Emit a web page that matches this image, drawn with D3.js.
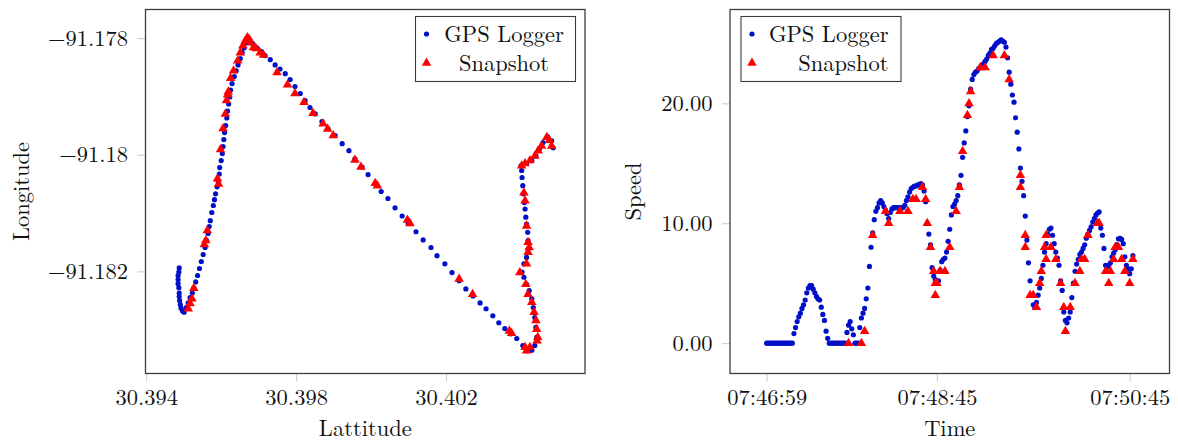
<!DOCTYPE html>
<html>
<head>
<meta charset="utf-8">
<script src="https://cdn.jsdelivr.net/npm/d3@7"></script>
<style>
body{margin:0;background:#fff}
svg text{font-family:"Latin Modern Roman","Liberation Serif",serif;font-size:22.5px;fill:#111}
</style>
</head>
<body>
<svg id="chart" width="1178" height="442"></svg>
<script>
// ---- GPS logger track (left plot) ----
var trackLat = [
  30.39488,30.39487,30.39485,30.39485,30.39485,30.39487,30.39488,30.39488,30.39489,30.39491,30.39493,30.39497,30.39501,
  30.39507,30.39512,30.39517,30.39523,30.39527,30.39532,30.39537,30.39542,30.39547,30.39552,30.39557,30.39561,30.39565,
  30.39568,30.39571,30.39575,30.39579,30.39582,30.39585,30.39589,30.39592,30.39595,30.39596,30.39600,30.39603,30.39605,
  30.39607,30.39609,30.39612,30.39615,30.39617,30.39620,30.39623,30.39625,30.39629,30.39635,30.39640,30.39645,30.39651,
  30.39656,30.39661,30.39667,30.39671,
  30.39677,30.39685,30.39696,30.39707,30.39717,30.39731,30.39744,30.39757,30.39771,30.39784,30.39797,30.39811,30.39824,
  30.39837,30.39851,30.39869,30.39885,30.39904,30.39923,30.39941,30.39957,30.39976,30.39992,30.40011,30.40027,30.40045,
  30.40064,30.40083,30.40099,30.40120,30.40139,30.40160,30.40176,30.40197,30.40216,30.40235,30.40253,30.40272,30.40291,
  30.40307,30.40325,30.40341,30.40357,30.40373,30.40389,30.40405,30.40416,
  30.40429,30.40437,30.40442,30.40440,30.40437,30.40433,30.40429,30.40422,30.40415,30.40408,30.40403,30.40408,30.40415,
  30.40419,30.40419,30.40418,30.40415,30.40413,30.40411,30.40409,30.40406,30.40405,30.40403,30.40402,30.40400,30.40415,
  30.40429,30.40440,30.40449,30.40459,30.40471,30.40482,30.40486]
var trackLon = [
  -91.18194,-91.18201,-91.18207,-91.18214,-91.18221,-91.18228,-91.18237,-91.18243,-91.18250,-91.18257,-91.18263,-91.18268,-91.18270,
  -91.18262,-91.18254,-91.18245,-91.18237,-91.18228,-91.18218,-91.18207,-91.18195,-91.18183,-91.18171,-91.18159,-91.18147,-91.18135,
  -91.18123,-91.18113,-91.18099,-91.18087,-91.18077,-91.18067,-91.18055,-91.18045,-91.18033,-91.18022,-91.18010,-91.17998,-91.17986,
  -91.17974,-91.17962,-91.17950,-91.17937,-91.17925,-91.17913,-91.17901,-91.17889,-91.17878,-91.17866,-91.17856,-91.17846,-91.17835,
  -91.17825,-91.17817,-91.17808,-91.17801,
  -91.17805,-91.17810,-91.17817,-91.17823,-91.17830,-91.17837,-91.17846,-91.17853,-91.17861,-91.17871,-91.17883,-91.17895,-91.17907,
  -91.17919,-91.17930,-91.17943,-91.17955,-91.17967,-91.17981,-91.17993,-91.18007,-91.18021,-91.18034,-91.18050,-91.18063,-91.18075,
  -91.18091,-91.18105,-91.18118,-91.18132,-91.18146,-91.18159,-91.18173,-91.18187,-91.18202,-91.18216,-91.18230,-91.18242,-91.18254,
  -91.18264,-91.18276,-91.18288,-91.18298,-91.18307,-91.18315,-91.18327,-91.18336,
  -91.18335,-91.18327,-91.18313,-91.18296,-91.18279,-91.18262,-91.18247,-91.18233,-91.18222,-91.18210,-91.18201,-91.18187,-91.18176,
  -91.18162,-91.18147,-91.18133,-91.18119,-91.18107,-91.18093,-91.18082,-91.18067,-91.18053,-91.18039,-91.18027,-91.18019,-91.18015,
  -91.18010,-91.18002,-91.17990,-91.17979,-91.17969,-91.17976,-91.17988]

// ---- snapshot positions (left plot) ----
var snapLat = [
  30.39512,30.39517,30.39522,30.39527,30.39555,30.39559,30.39563,30.39590,30.39593,30.39598,30.39605,30.39611,30.39614,
  30.39617,30.39619,30.39625,30.39633,30.39644,30.39651,30.39658,30.39664,30.39670,30.39675,30.39680,30.39686,30.39693,
  30.39704,30.39713,30.39749,30.39777,30.39797,30.39821,30.39845,30.39872,30.39884,30.39899,30.39957,30.39973,30.40011,
  30.40017,30.40097,30.40104,30.40235,30.40271,30.40369,30.40375,30.40411,30.40415,30.40424,30.40443,30.40445,30.40442,
  30.40440,30.40435,30.40429,30.40419,30.40413,30.40397,30.40415,30.40419,30.40422,30.40419,30.40415,30.40411,30.40408,
  30.40402,30.40411,30.40424,30.40437,30.40446,30.40455,30.40469,30.40476,30.40482]
var snapLon = [
  -91.18264,-91.18255,-91.18247,-91.18229,-91.18154,-91.18147,-91.18130,-91.18041,-91.18050,-91.17991,-91.17955,-91.17930,-91.17907,
  -91.17897,-91.17892,-91.17869,-91.17856,-91.17839,-91.17825,-91.17813,-91.17805,-91.17799,-91.17802,-91.17808,-91.17816,-91.17818,
  -91.17825,-91.17829,-91.17859,-91.17880,-91.17895,-91.17910,-91.17929,-91.17947,-91.17956,-91.17967,-91.18009,-91.18021,-91.18049,
  -91.18053,-91.18112,-91.18118,-91.18213,-91.18239,-91.18302,-91.18306,-91.18330,-91.18336,-91.18330,-91.18319,-91.18313,-91.18299,
  -91.18284,-91.18270,-91.18253,-91.18239,-91.18222,-91.18202,-91.18187,-91.18167,-91.18159,-91.18150,-91.18122,-91.18079,-91.18065,
  -91.18019,-91.18015,-91.18010,-91.18002,-91.17993,-91.17985,-91.17970,-91.17975,-91.17985]

// ---- GPS logger speed, one reading per second from loggerStart (right plot) ----
var loggerStart = '07:46:59'
var loggerSpeed = [
  0,0,0,0,0,0,0,0,0,0, 0,0,0,0,0,0,0,0.8,1.3,1.8,
  2.2,2.5,2.9,3.2,3.6,4.2,4.6,4.8,4.8,4.5, 4.2,3.9,3.7,3.6,3.0,2.4,1.9,1.0,0.4,0,
  0,0,0,0,0,0,0,0,0,0, 0.9,1.5,1.8,1.2,0.7,0,0,0,1.3,2.1,
  2.5,2.9,3.7,4.6,6.4,8.0,9.2,10.3,11.0,11.3, 11.7,11.9,11.7,11.4,11.1,10.8,10.4,10.9,11.2,11.3,
  11.3,11.3,11.3,11.3,11.3,11.3,11.5,11.9,12.2,12.6, 12.9,13.0,13.1,13.1,13.2,13.2,13.3,13.2,12.7,11.8,
  10.0,9.1,8.2,6.3,5.6,5.3,5.1,5.2,6.1,6.8, 7.0,7.1,7.6,8.5,9.5,10.7,11.4,11.6,11.9,12.3,
  13.2,14.0,15.5,16.7,17.7,18.9,19.8,21.2,22.0,22.4, 22.6,22.7,22.9,23.0,23.2,23.3,23.5,23.7,24.0,24.2,
  24.5,24.6,24.8,25.0,25.1,25.2,25.3,25.2,25.1,24.7, 23.8,22.6,21.6,20.7,20.1,18.8,17.6,16.2,14.6,13.5,
  12.3,10.6,8.6,6.7,5.2,4.0,3.2,3.0,3.4,4.0, 4.6,5.4,6.5,7.6,8.3,9.1,9.5,9.6,9.0,8.3,
  7.6,7.1,6.5,5.2,4.4,2.6,1.9,1.7,2.1,2.6, 3.8,5.0,6.0,6.6,7.0,7.4,7.6,7.9,8.2,8.75,
  9.1,9.4,9.7,10.1,10.4,10.7,10.85,10.95,9.6,9.0, 7.9,6.5,6.4,6.5,6.7,7.2,7.5,7.8,8.2,8.7,
  8.75,8.65,8.3,7.2,6.5,6.2,5.8,6.2,7.3]

// ---- snapshot speeds (right plot) ----
var snapTime = [
  '07:47:50','07:47:58','07:48:00','07:48:05','07:48:13','07:48:15','07:48:22','07:48:27','07:48:30','07:48:32',
  '07:48:36','07:48:38','07:48:39','07:48:41','07:48:43','07:48:44','07:48:44','07:48:45','07:48:47','07:48:50',
  '07:48:53','07:48:57','07:48:59','07:49:01','07:49:04','07:49:05','07:49:06','07:49:12','07:49:15','07:49:20',
  '07:49:27','07:49:30','07:49:37','07:49:37','07:49:40','07:49:40','07:49:43','07:49:45','07:49:47','07:49:49',
  '07:49:50','07:49:52','07:49:53','07:49:53','07:49:56','07:49:59','07:50:02','07:50:04','07:50:05','07:50:08',
  '07:50:11','07:50:14','07:50:15','07:50:17','07:50:19','07:50:25','07:50:26','07:50:30','07:50:32','07:50:33',
  '07:50:35','07:50:36','07:50:38','07:50:40','07:50:42','07:50:45','07:50:47']
var snapSpeed = [
  0,0,1,9,11,10,11,11,12,12,
  13,12,10,8,6,4,5,5,6,6,
  8,11,13,16,19,20,21,23,23,24,
  24,22,14,13,9,8,4,4,3,5,
  6,8,9,7,8,7,5,3,1,3,
  5,6,7,7,9,10,10,6,5,6,
  7,8,8,7,6,5,7]

// ---- ticks / labels ----
var latTicks = [30.394, 30.398, 30.402]
var lonTicks = [-91.182, -91.18, -91.178]
var timeTicks = ['07:46:59', '07:48:45', '07:50:45']
var speedTicks = [0, 10, 20]
var seriesNames = ['GPS Logger', 'Snapshot']

var blue = '#0010c8', red = '#ff0000'
var dotR = 2.6, triR = 5.5
var tri = function(r){
  return 'M0,' + (-r) + 'L' + (0.866*r) + ',' + (0.5*r) + 'L' + (-0.866*r) + ',' + (0.5*r) + 'Z'
}

var svg = d3.select('#chart')
var W = 439.5, H = 364
var parseTime = d3.utcParse('%H:%M:%S')

// frame, ticks and titles shared by both plots
function drawAxes(g, x, y, xt, yt, xfmt, yfmt, xTitle, yTitle, yTitleX){
  var xa = g.append('g').attr('transform', 'translate(0,' + H + ')')
    .call(d3.axisBottom(x).tickValues(xt).tickFormat(xfmt).tickSize(8).tickPadding(8))
  var ya = g.append('g')
    .call(d3.axisLeft(y).tickValues(yt).tickFormat(yfmt).tickSize(8).tickPadding(9.5))
  ;[xa, ya].forEach(function(a){
    a.attr('font-family', null).attr('font-size', null)
    a.select('.domain').remove()
    a.selectAll('.tick line').attr('stroke', '#c8c8c8').attr('stroke-width', 1)
    a.selectAll('.tick text').attr('fill', '#111')
  })
  g.append('rect').attr('width', W).attr('height', H)
    .attr('fill', 'none').attr('stroke', '#3c3c3c').attr('stroke-width', 1.3)
  g.append('text').attr('x', W/2).attr('y', H + 62.5)
    .attr('text-anchor', 'middle').text(xTitle)
  g.append('text').attr('transform', 'translate(' + yTitleX + ',' + (H/2) + ') rotate(-90)')
    .attr('text-anchor', 'middle').text(yTitle)
}

function drawLegend(g, bx, by, align){
  var lg = g.append('g').attr('transform', 'translate(' + bx + ',' + by + ')')
  lg.append('rect').attr('width', 160).attr('height', 65)
    .attr('fill', '#fff').attr('stroke', '#3c3c3c').attr('stroke-width', 1.1)
  lg.append('circle').attr('cx', 11).attr('cy', 17.5).attr('r', dotR).attr('fill', blue)
  lg.append('path').attr('d', tri(triR)).attr('transform', 'translate(11,46.5)').attr('fill', red)
  var tx = align == 'end' ? 147.5 : 88.5
  var ta = align == 'end' ? 'end' : 'middle'
  seriesNames.forEach(function(n, i){
    lg.append('text').attr('x', tx).attr('y', 25.5 + i*28.5).attr('text-anchor', ta).text(n)
  })
}

// ---------- left: position ----------
var gL = svg.append('g').attr('transform', 'translate(145.5,9.5)')
var xL = d3.scaleLinear().domain([30.39398, 30.40571]).range([0, W])
var yL = d3.scaleLinear().domain([-91.18375, -91.17751]).range([H, 0])
drawAxes(gL, xL, yL, latTicks, lonTicks, d3.format('.3f'), d3.format('.3~f'), 'Lattitude', 'Longitude', -117)

gL.append('g').selectAll('circle').data(d3.range(trackLat.length)).join('circle')
  .attr('cx', function(i){ return xL(trackLat[i]) })
  .attr('cy', function(i){ return yL(trackLon[i]) })
  .attr('r', dotR).attr('fill', blue)
gL.append('g').selectAll('path').data(d3.range(snapLat.length)).join('path')
  .attr('d', tri(triR))
  .attr('transform', function(i){ return 'translate(' + xL(snapLat[i]) + ',' + yL(snapLon[i]) + ')' })
  .attr('fill', red)
drawLegend(gL, 270, 7, 'middle')

// ---------- right: speed over time ----------
var gR = svg.append('g').attr('transform', 'translate(730,9.5)')
var t0 = parseTime(loggerStart)
var logger = loggerSpeed.map(function(s, i){ return {t: d3.utcSecond.offset(t0, i), v: s} })
var snaps = snapTime.map(function(s, i){ return {t: parseTime(s), v: snapSpeed[i]} })
var all = logger.concat(snaps)
var tx = d3.extent(all, function(d){ return d.t })
var tpad = (tx[1] - tx[0]) * 0.1
var vy = d3.extent(all, function(d){ return d.v })
var vpad = (vy[1] - vy[0]) * 0.1
var xR = d3.scaleUtc().domain([new Date(+tx[0] - tpad), new Date(+tx[1] + tpad)]).range([0, W])
var yR = d3.scaleLinear().domain([vy[0] - vpad, vy[1] + vpad]).range([H, 0])
drawAxes(gR, xR, yR, timeTicks.map(parseTime), speedTicks, d3.utcFormat('%H:%M:%S'), d3.format('.2f'), 'Time', 'Speed', -89)

gR.append('g').selectAll('circle').data(logger).join('circle')
  .attr('cx', function(d){ return xR(d.t) })
  .attr('cy', function(d){ return yR(d.v) })
  .attr('r', dotR).attr('fill', blue)
gR.append('g').selectAll('path').data(snaps).join('path')
  .attr('d', tri(triR))
  .attr('transform', function(d){ return 'translate(' + xR(d.t) + ',' + yR(d.v) + ')' })
  .attr('fill', red)
drawLegend(gR, 11, 7, 'end')
</script>
</body>
</html>
